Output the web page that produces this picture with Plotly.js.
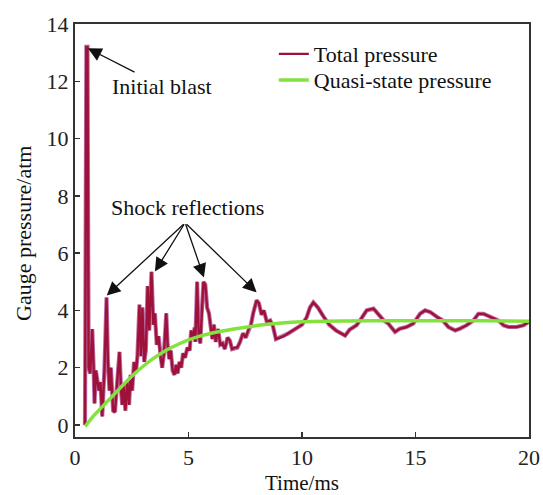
<!DOCTYPE html>
<html>
<head>
<meta charset="utf-8">
<script src="https://cdn.plot.ly/plotly-3.0.1.min.js"></script>
<style>html,body{margin:0;padding:0;background:#fff;}#chart{width:543px;height:495px;}</style>
</head>
<body>
<div id="chart"></div>
<script>
// Total pressure (time in ms, gauge pressure in atm)
var totalTime = [0.44,0.50,0.55,0.60,0.67,0.76,0.82,0.86,0.92,0.98,1.05,1.12,1.20,1.30,1.39,1.45,1.52,1.58,1.68,1.76,1.84,1.96,2.03,2.08,2.14,2.22,2.30,2.38,2.45,2.52,2.60,2.68,2.75,2.84,2.90,2.97,3.05,3.12,3.20,3.27,3.37,3.45,3.52,3.60,3.68,3.76,3.84,3.92,4.02,4.08,4.15,4.22,4.30,4.38,4.45,4.52,4.60,4.68,4.76,4.85,4.95,5.05,5.12,5.20,5.27,5.30,5.38,5.45,5.52,5.58,5.66,5.74,5.82,5.90,5.98,6.05,6.12,6.20,6.30,6.40,6.50,6.60,6.72,6.82,6.92,7.05,7.15,7.27,7.40,7.52,7.65,7.75,7.85,8.00,8.10,8.22,8.32,8.45,8.60,8.72,8.85,9.00,9.20,9.40,9.60,9.80,10.00,10.20,10.35,10.50,10.70,10.95,11.20,11.50,11.90,12.10,12.40,12.60,12.85,13.15,13.35,13.60,13.80,14.10,14.30,14.60,14.90,15.20,15.42,15.65,15.95,16.20,16.45,16.75,16.95,17.25,17.55,17.77,18.00,18.30,18.65,18.88,19.10,19.45,19.75,20.00];
var totalPressure = [0,13.2,13.2,2.0,1.8,3.35,2.0,0.75,1.9,1.5,1.2,1.5,0.3,2.0,4.45,2.2,1.2,2.0,0.5,0.45,1.3,2.55,1.2,0.7,1.4,0.5,1.5,0.7,1.75,1.2,2.2,1.8,2.4,4.2,2.4,4.1,2.2,2.6,4.85,3.3,5.35,3.5,3.9,2.8,3.1,2.4,2.0,2.5,3.9,2.8,2.3,2.6,1.9,1.75,2.1,1.8,2.2,2.0,2.5,2.35,2.7,2.6,3.3,3.0,3.4,2.9,5.0,3.1,2.85,3.9,5.0,4.9,4.1,3.9,3.3,3.0,3.5,2.9,3.35,2.8,2.85,2.65,3.05,2.95,2.65,2.7,2.7,2.9,3.2,3.05,3.35,3.5,3.9,4.35,4.25,3.85,4.0,3.6,3.65,3.45,3.0,3.05,3.1,3.2,3.3,3.4,3.5,3.75,4.1,4.28,4.1,3.78,3.5,3.3,3.12,3.33,3.48,3.7,4.0,4.06,3.88,3.65,3.54,3.25,3.36,3.42,3.54,3.88,4.0,3.94,3.77,3.65,3.42,3.3,3.36,3.48,3.65,3.88,3.88,3.77,3.65,3.48,3.42,3.42,3.48,3.6];

// Quasi-state pressure
var quasiTime = [0.45,0.8,1.4,2.0,2.5,3.0,3.5,4.0,4.5,5.0,5.5,6.0,7.0,8.0,9.0,10,12,14,16,18,20];
var quasiPressure = [-0.05,0.3,0.8,1.3,1.7,2.05,2.35,2.6,2.8,2.97,3.1,3.2,3.35,3.47,3.55,3.6,3.63,3.64,3.64,3.64,3.62];

var seriesNames = ['Total pressure','Quasi-state pressure'];
var xTicks = [0,5,10,15,20];
var yTicks = [0,2,4,6,8,10,12,14];

// Annotation anchors (data coordinates)
var blastTip = [0.57, 13.15];
var blastText = [3.83, 11.83];
var shockText = [4.95, 7.6];
var shockTail = [4.85, 7.06];
var shockTipsX = [1.40, 3.52, 5.68, 8.0];
var shockTipsY = [4.52, 5.36, 5.15, 4.63];

var FONT = '"Liberation Serif","Times New Roman",serif';

var traces = [
  {x: totalTime, y: totalPressure, type:'scatter', mode:'lines', name: seriesNames[0], showlegend:false,
   line:{color:'rgba(165,60,140,0.75)', width:4.2}, hoverinfo:'skip'},
  {x: totalTime, y: totalPressure, type:'scatter', mode:'lines', name: seriesNames[0], legend:'legend',
   line:{color:'#9e1239', width:2.4}},
  {x: quasiTime, y: quasiPressure, type:'scatter', mode:'lines', name: seriesNames[1], legend:'legend2',
   line:{color:'#84e23f', width:3.5, shape:'spline', smoothing:1}}
];

var annotations = [
  {x: blastTip[0], y: blastTip[1], xref:'x', yref:'y', ax: blastText[0], ay: blastText[1], axref:'x', ayref:'y',
   text:'Initial blast', showarrow:true, arrowhead:2, arrowsize:2.1, arrowwidth:1.3, arrowcolor:'#111',
   font:{family:FONT, size:22, color:'#111'}},
  {x: shockText[0], y: shockText[1], xref:'x', yref:'y', text:'Shock reflections', showarrow:false,
   font:{family:FONT, size:22, color:'#111'}},
  {x: 0.5, y: -0.112, xref:'paper', yref:'paper', text:'Time/ms', showarrow:false, yanchor:'middle',
   font:{family:FONT, size:21, color:'#111'}},
  {x: -0.112, y: 0.492, xref:'paper', yref:'paper', text:'Gauge pressure/atm', showarrow:false, textangle:-90,
   xanchor:'center', yanchor:'middle', font:{family:FONT, size:22, color:'#111'}}
];
for (var i = 0; i < shockTipsX.length; i++) {
  annotations.push({x: shockTipsX[i], y: shockTipsY[i], xref:'x', yref:'y', ax: shockTail[0], ay: shockTail[1],
    axref:'x', ayref:'y', text:'', showarrow:true, arrowhead:2, arrowsize:2.1, arrowwidth:1.3, arrowcolor:'#111'});
}

var axisCommon = {
  showgrid:false, zeroline:false, showline:true, mirror:true, linecolor:'#333', linewidth:2,
  ticks:'inside', ticklen:5, tickwidth:1.5, tickcolor:'#333',
  tickfont:{family:FONT, size:22, color:'#222'}
};

var legendCommon = {xanchor:'left', yanchor:'top', bgcolor:'rgba(0,0,0,0)',
  font:{family:FONT, size:22, color:'#111'}, itemwidth:30};

var layout = {
  width:543, height:495,
  margin:{l:75, r:14, t:24, b:58},
  paper_bgcolor:'#fff', plot_bgcolor:'#fff',
  showlegend:true,
  legend: Object.assign({}, legendCommon, {x:0.438, y:0.978}),
  legend2: Object.assign({}, legendCommon, {x:0.438, y:0.915}),
  xaxis: Object.assign({}, axisCommon, {range:[0,20], tickvals:xTicks, ticktext:xTicks.map(String)}),
  yaxis: Object.assign({}, axisCommon, {range:[-0.42,14], tickvals:yTicks, ticktext:yTicks.map(String)}),
  annotations: annotations
};

Plotly.newPlot('chart', traces, layout, {displayModeBar:false, staticPlot:true});
</script>
</body>
</html>
